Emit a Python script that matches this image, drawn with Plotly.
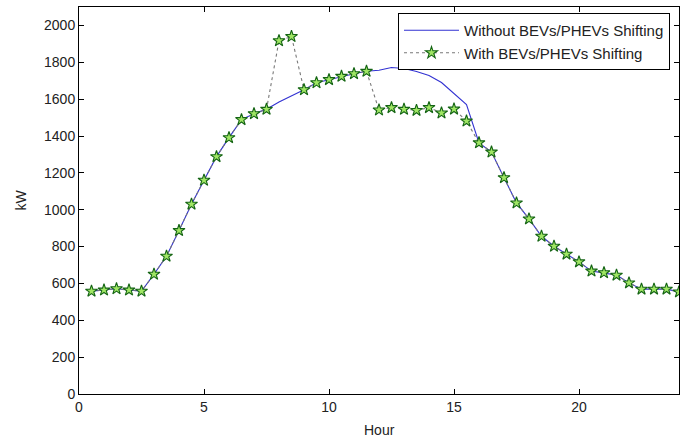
import plotly.graph_objects as go

hours = [0.5, 1.0, 1.5, 2.0, 2.5, 3.0, 3.5, 4.0, 4.5, 5.0, 5.5, 6.0,
         6.5, 7.0, 7.5, 8.0, 8.5, 9.0, 9.5, 10.0, 10.5, 11.0, 11.5, 12.0,
         12.5, 13.0, 13.5, 14.0, 14.5, 15.0, 15.5, 16.0, 16.5, 17.0, 17.5, 18.0,
         18.5, 19.0, 19.5, 20.0, 20.5, 21.0, 21.5, 22.0, 22.5, 23.0, 23.5, 24.0]

without_shift = [558, 564, 571, 564, 558, 650, 748, 887, 1030, 1160, 1288, 1391,
                 1489, 1521, 1545, 1585, 1617, 1651, 1689, 1706, 1724, 1738, 1751, 1757,
                 1772, 1766, 1750, 1728, 1690, 1630, 1570, 1363, 1313, 1174, 1037, 950,
                 856, 802, 759, 717, 667, 658, 645, 603, 569, 569, 569, 554]

with_shift = [558, 564, 571, 564, 558, 650, 748, 887, 1030, 1160, 1288, 1391,
              1489, 1521, 1545, 1917, 1940, 1651, 1689, 1706, 1724, 1738, 1751, 1541,
              1554, 1545, 1539, 1554, 1525, 1546, 1481, 1363, 1313, 1174, 1037, 950,
              856, 802, 759, 717, 667, 658, 645, 603, 569, 569, 569, 554]

x_ticks = [0, 5, 10, 15, 20]
y_ticks = [0, 200, 400, 600, 800, 1000, 1200, 1400, 1600, 1800, 2000]

FONT = "Liberation Sans, Arial, sans-serif"

fig = go.Figure()
fig.add_trace(go.Scatter(
    x=hours, y=without_shift, mode="lines",
    name="Without BEVs/PHEVs Shifting",
    line=dict(color="rgb(50,50,210)", width=1.1),
))
fig.add_trace(go.Scatter(
    x=hours, y=with_shift, mode="lines+markers",
    name="With BEVs/PHEVs Shifting",
    line=dict(color="rgb(120,120,120)", width=1.1, dash="dot"),
    marker=dict(symbol="star", size=9, color="rgb(160,230,100)",
                line=dict(color="rgb(20,100,20)", width=1.1)),
))

axis_common = dict(
    showgrid=False, zeroline=False, showline=True, linecolor="black", linewidth=1,
    mirror="ticks", ticks="inside", ticklen=5, tickcolor="black",
    tickfont=dict(family=FONT, size=14, color="#222"), automargin=False,
)

fig.update_layout(
    width=688, height=437,
    margin=dict(l=79, r=9, t=7, b=43),
    paper_bgcolor="white", plot_bgcolor="white",
    font=dict(family=FONT, size=14, color="#222"),
    xaxis=dict(range=[0, 24], tickvals=x_ticks, **axis_common),
    yaxis=dict(range=[0, 2100], tickvals=y_ticks, **axis_common),
    legend=dict(x=0.985, y=0.9845, xanchor="right", yanchor="top",
                bordercolor="black", borderwidth=1, bgcolor="white",
                font=dict(family=FONT, size=15, color="#222"),
                tracegroupgap=0, itemwidth=55),
    showlegend=True,
    annotations=[
        dict(text="Hour", xref="paper", yref="paper", x=0.5, y=0,
             xanchor="center", yanchor="middle", yshift=-36, showarrow=False,
             font=dict(family=FONT, size=14, color="#222")),
        dict(text="kW", xref="paper", yref="paper", x=0, y=0.5,
             xanchor="center", yanchor="middle", xshift=-59, showarrow=False,
             textangle=-90, font=dict(family=FONT, size=14, color="#222")),
    ],
)

fig.write_html("out.html", config={"displayModeBar": False},
               post_script="document.body.style.margin='0';document.body.style.overflow='hidden';")
